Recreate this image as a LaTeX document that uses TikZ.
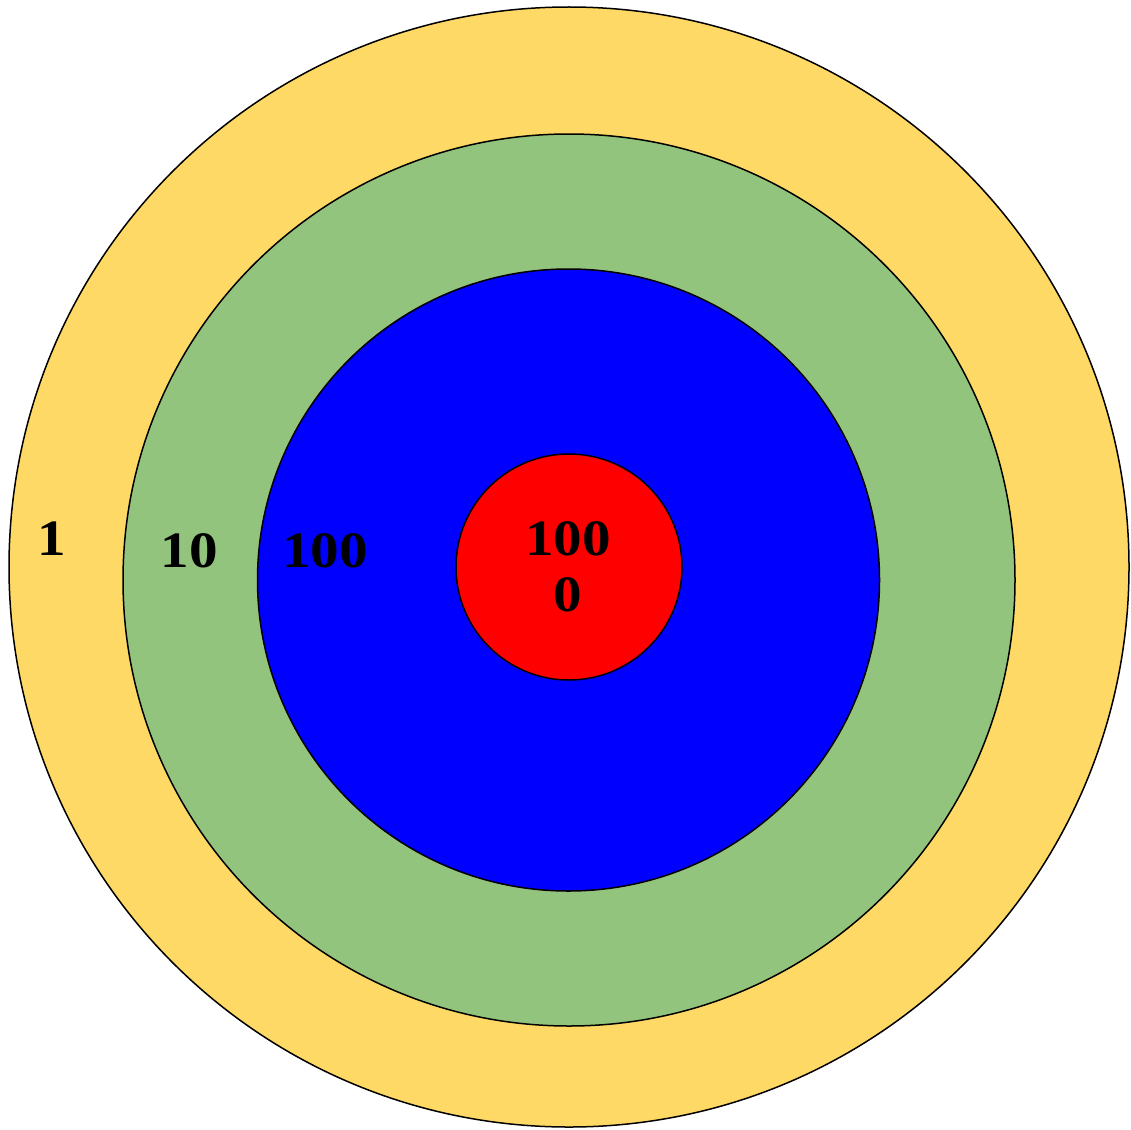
\documentclass[tikz,border=0pt]{standalone}
\usepackage{fontspec}
\setmainfont{Liberation Serif}
\definecolor{ringyellow}{HTML}{FFD966}
\definecolor{ringgreen}{HTML}{93C47D}
\definecolor{ringblue}{HTML}{0000FF}
\definecolor{ringred}{HTML}{FF0000}
\begin{document}
\begin{tikzpicture}[x=1pt,y=-1pt,
  ring/.style={circle,draw=black,line width=1.5pt,inner sep=0pt},
  lbl/.style={font=\fontsize{51}{56}\selectfont\bfseries,inner sep=0pt,align=center,xscale=1.12}]
\useasboundingbox (0,0) rectangle (1131,1129);
\node[ring,fill=ringyellow,minimum size=1120pt] (outer) at (569,567) {};
\node[ring,fill=ringgreen,minimum size=892pt] (green) at (569,580) {};
\node[ring,fill=ringblue,minimum size=622pt] (blue) at (568.5,580) {};
\node[ring,fill=ringred,minimum size=226pt] (red) at (569,567) {};
\node[lbl] (l1) at (52,539) {1};
\node[lbl] (l10) at (189,551) {10};
\node[lbl] (l100) at (325,551) {100};
\node[lbl] (l1000a) at (568,539) {100};
\node[lbl] (l1000b) at (568,595) {0};
\end{tikzpicture}
\end{document}
